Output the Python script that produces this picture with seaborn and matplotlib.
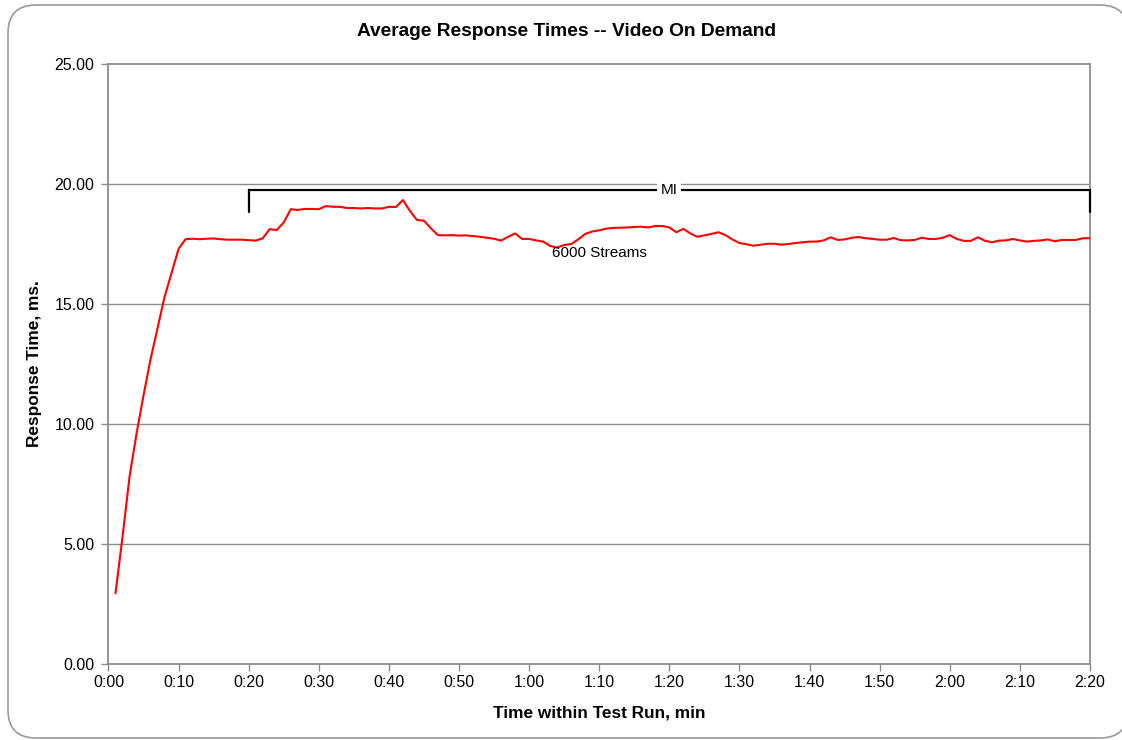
import matplotlib
matplotlib.use("Agg")
import matplotlib.pyplot as plt
from matplotlib.patches import FancyBboxPatch
from matplotlib.transforms import IdentityTransform
import seaborn as sns
import pandas as pd

# ---------------- data ----------------
minutes = list(range(1, 141))
response_ms = [
    2.95, 5.3, 7.8, 9.6, 11.2, 12.7, 14.0, 15.3, 16.3, 17.3,
    17.7, 17.72, 17.7, 17.72, 17.73, 17.7, 17.68, 17.68, 17.68, 17.66,
    17.64, 17.74, 18.12, 18.08, 18.4, 18.95, 18.92, 18.96, 18.96, 18.95,
    19.08, 19.05, 19.05, 19.0, 19.0, 18.98, 19.0, 18.98, 18.98, 19.05,
    19.04, 19.33, 18.88, 18.5, 18.47, 18.15, 17.87, 17.86, 17.87, 17.85,
    17.86, 17.83, 17.8, 17.76, 17.72, 17.64, 17.8, 17.94, 17.71, 17.71,
    17.65, 17.6, 17.42, 17.35, 17.46, 17.5, 17.69, 17.92, 18.02, 18.07,
    18.14, 18.17, 18.18, 18.19, 18.21, 18.22, 18.19, 18.25, 18.25, 18.19,
    17.99, 18.13, 17.94, 17.8, 17.86, 17.92, 17.99, 17.87, 17.69, 17.54,
    17.49, 17.43, 17.47, 17.51, 17.51, 17.47, 17.5, 17.54, 17.57, 17.6,
    17.6, 17.65, 17.78, 17.67, 17.69, 17.76, 17.79, 17.74, 17.71, 17.68,
    17.68, 17.75, 17.66, 17.65, 17.67, 17.76, 17.71, 17.71, 17.76, 17.87,
    17.71, 17.63, 17.63, 17.78, 17.64, 17.57, 17.64, 17.65, 17.71, 17.65,
    17.6, 17.63, 17.65, 17.69, 17.61, 17.67, 17.67, 17.67, 17.74, 17.74,
]
x_ticks = list(range(0, 141, 10))
x_tick_labels = ["0:00", "0:10", "0:20", "0:30", "0:40", "0:50", "1:00", "1:10",
                 "1:20", "1:30", "1:40", "1:50", "2:00", "2:10", "2:20"]
y_ticks = [0, 5, 10, 15, 20, 25]
y_tick_labels = ["0.00", "5.00", "10.00", "15.00", "20.00", "25.00"]

series_label = "6000 Streams"
series_label_pos = (70, 17.12)
mi_label = "MI"
mi_start, mi_end = 20, 140
mi_level, mi_tick_bottom = 19.75, 18.85

df = pd.DataFrame({"minute": minutes, "response": response_ms})

# ---------------- style ----------------
sns.set_style("white")
plt.rcParams["font.family"] = ["Liberation Sans", "DejaVu Sans"]
plt.rcParams["text.color"] = "black"
plt.rcParams["axes.labelcolor"] = "black"

W, H = 1122, 740
fig = plt.figure(figsize=(W / 100, H / 100), dpi=100)
fig.patch.set_facecolor("white")

# rounded outer frame (pixel coords); right edge runs off the canvas
frame = FancyBboxPatch((8, 2), 1120, 733, boxstyle="round,pad=0,rounding_size=28",
                       transform=IdentityTransform(), facecolor="white",
                       edgecolor="#9a9a9a", linewidth=1.2, zorder=-10)
fig.patches.append(frame)

left, right = 108.5 / W, 1090 / W
bottom, top = 1 - 664 / H, 1 - 64 / H
ax = fig.add_axes([left, bottom, right - left, top - bottom])
ax.set_zorder(1)
ax.set_facecolor("white")

grid_color = "#8c8c8c"
for yv in y_ticks[1:-1]:
    ax.axhline(yv, color=grid_color, lw=1.0, zorder=1)

sns.lineplot(data=df, x="minute", y="response", ax=ax, color="#ff0000",
             lw=1.5, zorder=3, legend=False)

ax.set_xlim(0, 140)
ax.set_ylim(0, 25)
ax.set_xticks(x_ticks)
ax.set_xticklabels(x_tick_labels)
ax.set_yticks(y_ticks)
ax.set_yticklabels(y_tick_labels)
ax.tick_params(axis="both", which="major", labelsize=11.5, length=5, width=1,
               color=grid_color, direction="out", labelcolor="black")
ax.tick_params(axis="x", bottom=True, pad=3)
ax.tick_params(axis="y", left=True, pad=5)

for s in ax.spines.values():
    s.set_visible(True)
    s.set_color(grid_color)
    s.set_linewidth(1.3)

ax.set_xlabel("Time within Test Run, min", fontsize=12.4, fontweight="bold",
              color="black")
ax.set_ylabel("Response Time, ms.", fontsize=12.4, fontweight="bold",
              color="black")
ax.xaxis.set_label_coords(0.5, -0.07)
ax.yaxis.set_label_coords(-0.0675, 0.5)

# MI bracket
ax.plot([mi_start, mi_start, mi_end, mi_end],
        [mi_tick_bottom, mi_level, mi_level, mi_tick_bottom],
        color="black", lw=1.6, zorder=4, solid_joinstyle="miter", clip_on=False)
ax.text((mi_start + mi_end) / 2, mi_level, mi_label, ha="center", va="center",
        fontsize=11, zorder=5, color="black",
        bbox=dict(facecolor="white", edgecolor="none", pad=2.5))

ax.text(series_label_pos[0], series_label_pos[1], series_label, ha="center",
        va="center", fontsize=11, zorder=5, color="black")

fig.text(566 / W, 1 - 31 / H, "Average Response Times -- Video On Demand",
         ha="center", va="center", fontsize=13.8, fontweight="bold",
         color="black")

fig.savefig("out.png", dpi=100, facecolor="white")
